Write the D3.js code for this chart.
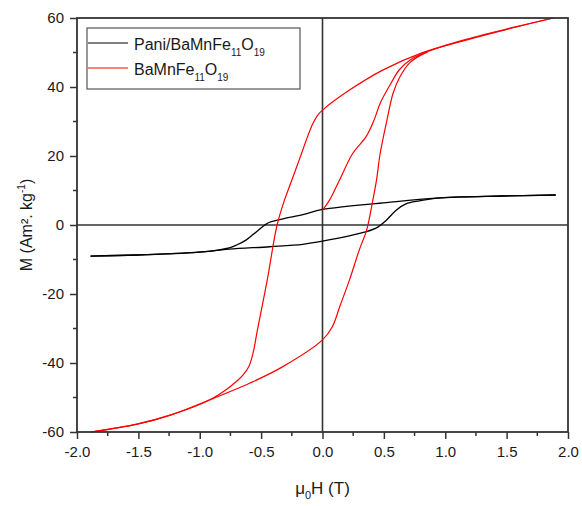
<!DOCTYPE html>
<html>
<head>
<meta charset="utf-8">
<script src="https://cdn.jsdelivr.net/npm/d3@7"></script>
<style>
  html, body { margin: 0; padding: 0; background: #fff; }
  svg { display: block; }
  text { font-family: "Liberation Sans", Arial, sans-serif; fill: #1a1a1a; }
</style>
</head>
<body>
<script>
// ---------- data ----------
const xTicks = [-2.0, -1.5, -1.0, -0.5, 0.0, 0.5, 1.0, 1.5, 2.0];
const yTicks = [-60, -40, -20, 0, 20, 40, 60];

// BaMnFe11O19 (red) - descending (upper) branch
const redDownH = [1.88, 1.58, 1.17, 0.81, 0.49, 0.22, 0.0, -0.04, -0.08, -0.12, -0.17, -0.21, -0.27, -0.31, -0.37, -0.45, -0.53, -0.565, -0.60, -0.65, -0.70, -0.78, -0.92, -1.24, -1.51, -1.89];
const redDownM = [60.0, 57.4, 53.6, 49.9, 44.9, 39.1, 33.3, 31.8, 29.3, 25.8, 20.8, 16.9, 11.1, 7.2, 0.0, -15.9, -30.4, -37.0, -41.0, -43.6, -45.3, -47.6, -50.7, -55.1, -57.7, -60.0];
// red - ascending (lower) branch
const redUpH = [-1.89, -1.51, -1.24, -0.92, -0.59, -0.33, 0.0, 0.08, 0.14, 0.22, 0.30, 0.36, 0.41, 0.44, 0.47, 0.525, 0.575, 0.63, 0.71, 0.85, 1.17, 1.58, 1.88];
const redUpM = [-60.0, -57.7, -55.1, -50.7, -45.8, -41.2, -33.3, -29.5, -23.7, -15.9, -7.2, -1.4, 7.2, 13.0, 20.8, 30.4, 38.2, 42.9, 47.0, 50.1, 53.8, 57.5, 60.0];
// red - initial (virgin) curve
const redVirginH = [0.0, 0.057, 0.138, 0.247, 0.355, 0.42, 0.47, 0.558, 0.626, 0.72, 0.85];
const redVirginM = [4.3, 7.2, 13.0, 20.8, 25.6, 30.4, 35.3, 41.1, 45.0, 48.0, 50.1];

// Pani/BaMnFe11O19 (black) - descending branch
const blkDownH = [1.9, 1.46, 0.93, 0.52, 0.0, -0.16, -0.32, -0.43, -0.47, -0.54, -0.62, -0.70, -0.76, -0.98, -1.51, -1.89];
const blkDownM = [8.7, 8.4, 7.8, 6.5, 4.5, 3.0, 1.8, 0.8, 0.0, -2.0, -4.3, -5.8, -6.6, -7.8, -8.7, -9.0];
// black - ascending branch
const blkUpH = [-1.89, -1.51, -0.98, -0.76, -0.43, -0.16, 0.0, 0.35, 0.45, 0.52, 0.60, 0.68, 0.79, 0.93, 1.46, 1.9];
const blkUpM = [-9.0, -8.7, -7.8, -7.0, -6.3, -5.6, -4.7, -2.0, -0.6, 1.4, 4.3, 6.1, 7.0, 7.8, 8.4, 8.7];

const seriesNames = ["Pani/BaMnFe", "BaMnFe"];
const seriesColors = ["#000000", "#ff0000"];

// ---------- layout ----------
const W = 582, H = 506;
const L = 77, R = 568, T = 18, B = 432;

const svg = d3.select("body").append("svg").attr("width", W).attr("height", H);

const x = d3.scaleLinear().domain([-2, 2]).range([L, R]);
const y = d3.scaleLinear().domain([-60, 60]).range([B, T]);

const axisColor = "#333";

// zero lines
svg.append("line").attr("x1", L).attr("x2", R).attr("y1", y(0)).attr("y2", y(0))
  .attr("stroke", axisColor).attr("stroke-width", 1.6);
svg.append("line").attr("x1", x(0)).attr("x2", x(0)).attr("y1", T).attr("y2", B)
  .attr("stroke", axisColor).attr("stroke-width", 1.6);

// curves
const line = d3.line().x(d => x(d[0])).y(d => y(d[1])).curve(d3.curveCatmullRom.alpha(0.5));
function draw(hs, ms, color, w) {
  svg.append("path").datum(hs.map((h, i) => [h, ms[i]]))
    .attr("d", line).attr("fill", "none").attr("stroke", color).attr("stroke-width", w);
}
draw(blkDownH, blkDownM, seriesColors[0], 1.3);
draw(blkUpH, blkUpM, seriesColors[0], 1.3);
draw(redDownH, redDownM, seriesColors[1], 1.2);
draw(redUpH, redUpM, seriesColors[1], 1.2);
draw(redVirginH, redVirginM, seriesColors[1], 1.2);

// axes
const fmtX = d => d.toFixed(1);
const fmtY = d => String(d);
const xAxis = d3.axisBottom(x).tickValues(xTicks).tickFormat(fmtX).tickSize(7).tickPadding(7);
const gx = svg.append("g").attr("transform", `translate(0,${B})`).call(xAxis);
const yAxis = d3.axisLeft(y).tickValues(yTicks).tickFormat(fmtY).tickSize(7).tickPadding(6);
const gy = svg.append("g").attr("transform", `translate(${L},0)`).call(yAxis);
[gx, gy].forEach(g => {
  g.select(".domain").remove();
  g.selectAll(".tick line").attr("stroke", axisColor).attr("stroke-width", 1.5);
  g.selectAll(".tick text").attr("font-size", 15).attr("fill", "#1a1a1a")
    .attr("font-family", '"Liberation Sans", Arial, sans-serif');
});

// minor ticks
const xMinor = [-1.75, -1.25, -0.75, -0.25, 0.25, 0.75, 1.25, 1.75];
svg.append("g").selectAll("line").data(xMinor).join("line")
  .attr("x1", d => x(d)).attr("x2", d => x(d)).attr("y1", B).attr("y2", B + 4)
  .attr("stroke", axisColor).attr("stroke-width", 1.5);
const yMinor = [-50, -30, -10, 10, 30, 50];
svg.append("g").selectAll("line").data(yMinor).join("line")
  .attr("x1", L - 4).attr("x2", L).attr("y1", d => y(d)).attr("y2", d => y(d))
  .attr("stroke", axisColor).attr("stroke-width", 1.5);

// frame
svg.append("rect").attr("x", L).attr("y", T).attr("width", R - L).attr("height", B - T)
  .attr("fill", "none").attr("stroke", axisColor).attr("stroke-width", 1.8);

// axis titles
const xt = svg.append("text").attr("x", (L + R) / 2).attr("y", 494)
  .attr("text-anchor", "middle").attr("font-size", 17);
xt.append("tspan").text("μ");
xt.append("tspan").attr("font-size", 11).attr("dy", 5).text("0");
xt.append("tspan").attr("dy", -5).text("H (T)");

const yt = svg.append("text").attr("transform", `translate(32,${(T + B) / 2}) rotate(-90)`)
  .attr("text-anchor", "middle").attr("font-size", 16);
yt.append("tspan").text("M (Am². kg");
yt.append("tspan").attr("font-size", 10).attr("dy", -7).text("-1");
yt.append("tspan").attr("dy", 7).text(")");

// legend
const lg = svg.append("g");
lg.append("rect").attr("x", 87).attr("y", 28).attr("width", 213).attr("height", 61)
  .attr("fill", "#fff").attr("stroke", "#555").attr("stroke-width", 1.2);
const rows = [{ y: 50 }, { y: 75 }];
rows.forEach((r, i) => {
  lg.append("line").attr("x1", 88).attr("x2", 128).attr("y1", r.y - 7).attr("y2", r.y - 7)
    .attr("stroke", seriesColors[i]).attr("stroke-width", 1.2);
  const t = lg.append("text").attr("x", 134).attr("y", r.y).attr("font-size", 16);
  t.append("tspan").text(seriesNames[i]);
  t.append("tspan").attr("font-size", 10).attr("dy", 6).text("11");
  t.append("tspan").attr("dy", -6).text("O");
  t.append("tspan").attr("font-size", 10).attr("dy", 6).text("19");
});
</script>
</body>
</html>
